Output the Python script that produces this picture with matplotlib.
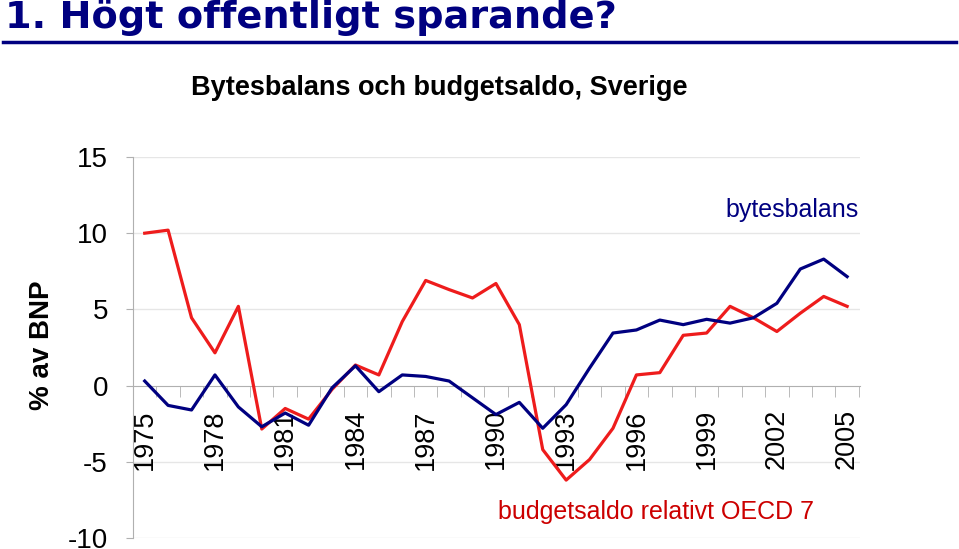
import matplotlib.pyplot as plt
import numpy as np

plt.rcParams['font.family'] = ['Liberation Sans', 'DejaVu Sans']

years = list(range(1975, 2006))
bytesbalans = [0.3, -1.3, -1.6, 0.7, -1.4, -2.7, -1.8, -2.6, -0.15, 1.3, -0.4,
               0.7, 0.6, 0.3, -0.8, -1.9, -1.1, -2.8, -1.25, 1.15, 3.45, 3.65,
               4.3, 4.0, 4.35, 4.1, 4.45, 5.4, 7.65, 8.3, 7.15]
budgetsaldo = [10.0, 10.2, 4.45, 2.15, 5.2, -2.85, -1.5, -2.2, -0.25, 1.35, 0.7,
               4.2, 6.9, 6.3, 5.75, 6.7, 4.0, -4.2, -6.2, -4.85, -2.8, 0.7,
               0.85, 3.3, 3.45, 5.2, 4.45, 3.55, 4.75, 5.85, 5.2]
tick_years = [1975, 1978, 1981, 1984, 1987, 1990, 1993, 1996, 1999, 2002, 2005]
yticks = [-10, -5, 0, 5, 10, 15]

navy = '#000080'
red = '#ee1c1c'
grey = '#b0b0b0'

fig = plt.figure(figsize=(9.59, 5.49), dpi=100)
ax = fig.add_axes([133 / 959, 1 - 538 / 549, 727 / 959, 381 / 549])

ax.plot(years, budgetsaldo, color=red, lw=2.3, zorder=3)
ax.plot(years, bytesbalans, color=navy, lw=2.3, zorder=3)

ax.set_xlim(1974.5, 2005.55)
ax.set_ylim(-10, 15)
ax.set_yticks(yticks)
ax.set_yticklabels([str(v) for v in yticks], fontsize=20)
for v in yticks:
    if v != 0:
        ax.axhline(v, color='#e6e6e6', lw=1, zorder=0)

ax.spines['top'].set_visible(False)
ax.spines['right'].set_visible(False)
ax.spines['left'].set_color(grey)
ax.spines['bottom'].set_color(grey)
ax.spines['bottom'].set_position(('data', 0))

ax.set_xticks(tick_years)
ax.set_xticklabels([str(y) for y in tick_years], rotation=90, fontsize=19.5,
                   va='top')
ax.set_xticks(np.arange(1974.5, 2006, 1.0), minor=True)
ax.tick_params(axis='x', which='major', length=0, pad=17)
ax.tick_params(axis='x', which='minor', length=8, color=grey, direction='out')
ax.tick_params(axis='y', length=5, color=grey, pad=13)

fig.text(42 / 959, 1 - 345 / 549, '% av BNP', fontsize=20, fontweight='bold',
         rotation=90, ha='center', va='center')

ax.text(2005.5, 11.5, 'bytesbalans', color=navy, fontsize=18, ha='right',
        va='center')
ax.text(1990.1, -8.3, 'budgetsaldo relativt OECD 7', color='#cc0000',
        fontsize=18, ha='left', va='center')

fig.text(5 / 959, 1 - 28 / 549, '1. Högt offentligt sparande?', color=navy,
         fontsize=27.5, fontweight='bold', ha='left', va='baseline',
         family=['DejaVu Sans'])
fig.add_artist(plt.Line2D([3 / 959, 956 / 959], [1 - 41.5 / 549, 1 - 41.5 / 549],
                          color=navy, lw=2.5))
fig.text(439 / 959, 1 - 95 / 549, 'Bytesbalans och budgetsaldo, Sverige',
         fontsize=19.5, fontweight='bold', ha='center', va='baseline')

fig.savefig('out.png', dpi=100)
